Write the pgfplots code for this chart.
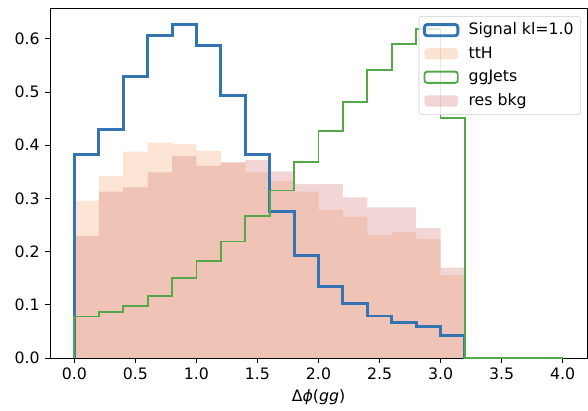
\documentclass[border=0pt]{standalone}
\usepackage{fontspec}
\setmainfont{DejaVu Sans}
\usepackage{pgfplots}
\pgfplotsset{compat=1.18}
\definecolor{sigblue}{HTML}{3474B2}
\definecolor{ggreen}{HTML}{55A84A}
\definecolor{tthc}{RGB}{244,159,96}
\definecolor{resc}{RGB}{207,103,103}
\begin{document}
\fontsize{11.8}{14}\selectfont
\begin{tikzpicture}
\begin{axis}[
  set layers,
  scale only axis,
  width=402.75pt, height=262.5pt,
  xmin=-0.2, xmax=4.2, ymin=0, ymax=0.658,
  xtick={0,0.5,...,4.0},
  ytick={0,0.1,...,0.6},
  xticklabel style={/pgf/number format/.cd,fixed,fixed zerofill,precision=1},
  yticklabel style={/pgf/number format/.cd,fixed,fixed zerofill,precision=1},
  /pgf/number format/assume math mode=true,
  tick align=outside, xtick pos=left, ytick pos=left,
  major tick length=3.6pt,
  tick style={black, line width=0.6pt},
  axis line style={line width=0.6pt},
  xlabel={Δ\textit{ϕ}(\textit{gg})},
  xlabel style={yshift=1pt},
  legend style={at={(0.988,0.977)}, anchor=north east, rounded corners=2pt,
    draw=black!20, fill=white, fill opacity=0.8, text opacity=1, draw opacity=1,
    row sep=3.2pt, inner sep=3pt, nodes={inner sep=2pt},
    /tikz/every odd column/.append style={column sep=5pt}},
  legend cell align=left,
  legend image code/.code={\path[#1] (0pt,-4.2pt) rectangle (25pt,4.2pt);},
]
\addplot[const plot, draw=sigblue, line width=2.2pt, line join=miter] coordinates {
(0,0) (0,0.383) (0.2,0.430) (0.4,0.529) (0.6,0.606) (0.8,0.627) (1.0,0.588)
(1.2,0.494) (1.4,0.383) (1.6,0.276) (1.8,0.193) (2.0,0.135) (2.2,0.103)
(2.4,0.079) (2.6,0.067) (2.8,0.060) (3.0,0.042) (3.2,0) (3.4,0) (3.6,0)
(3.8,0) (4.0,0)};
\addlegendentry{Signal kl=1.0}
\addplot[const plot, draw=none, fill=tthc, fill opacity=0.27, on layer=axis background] coordinates {
(0,0.296) (0.2,0.342) (0.4,0.388) (0.6,0.405) (0.8,0.402) (1.0,0.390)
(1.2,0.368) (1.4,0.349) (1.6,0.333) (1.8,0.313) (2.0,0.278) (2.2,0.266)
(2.4,0.231) (2.6,0.236) (2.8,0.224) (3.0,0.156) (3.2,0.156)} \closedcycle;
\addlegendentry{ttH}
\addplot[const plot, draw=ggreen, line width=1.4pt] coordinates {
(0,0) (0,0.078) (0.2,0.087) (0.4,0.098) (0.6,0.117) (0.8,0.150) (1.0,0.183)
(1.2,0.219) (1.4,0.267) (1.6,0.315) (1.8,0.369) (2.0,0.427) (2.2,0.481)
(2.4,0.541) (2.6,0.591) (2.8,0.618) (3.0,0.452) (3.2,0) (3.4,0) (3.6,0)
(3.8,0) (4.0,0)};
\addlegendentry{ggJets}
\addplot[const plot, draw=none, fill=resc, fill opacity=0.27, on layer=axis background] coordinates {
(0,0.229) (0.2,0.313) (0.4,0.321) (0.6,0.349) (0.8,0.380) (1.0,0.361)
(1.2,0.368) (1.4,0.372) (1.6,0.351) (1.8,0.327) (2.0,0.327) (2.2,0.302)
(2.4,0.283) (2.6,0.283) (2.8,0.244) (3.0,0.170) (3.2,0.170)} \closedcycle;
\addlegendentry{res bkg}
\end{axis}
\path (current axis.south west) ++(-37.5pt,-39pt) coordinate (bbA);
\path (current axis.north east) ++(0.75pt,6pt) coordinate (bbB);
\path (bbA) rectangle (bbB);
\end{tikzpicture}
\end{document}
